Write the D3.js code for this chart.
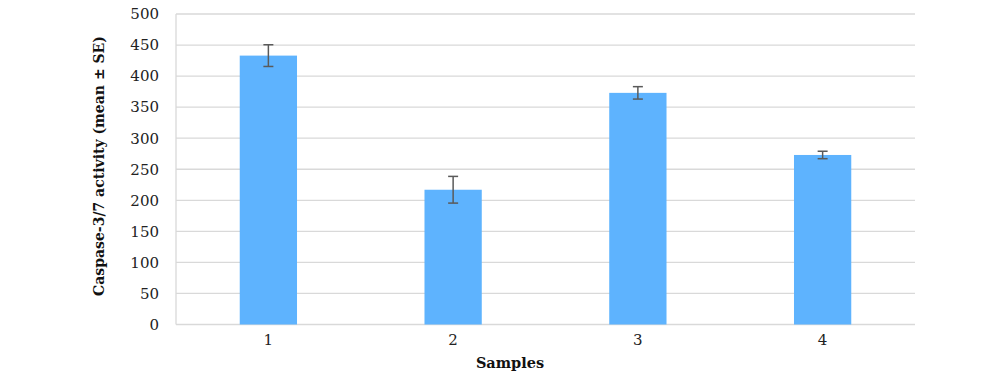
<!DOCTYPE html>
<html><head><meta charset="utf-8">
<script src="https://cdn.jsdelivr.net/npm/d3@7"></script>
<style>body{margin:0;background:#fff}text{font-family:"DejaVu Serif",serif}</style>
</head><body>
<svg id="c" width="1000" height="376"></svg>
<script>
const categories = ["1","2","3","4"];
const means = [433, 217, 373, 273];
const errors = [17.5, 21.5, 10, 6];
const yTicks = [0,50,100,150,200,250,300,350,400,450,500];

const svg = d3.select("#c");
const m = {left:176, right:915, top:14, bottom:324.5};
const x = d3.scaleBand().domain(categories).range([m.left, m.right]).paddingInner(0.69).paddingOuter(0.345);
const y = d3.scaleLinear().domain([0,500]).range([m.bottom, m.top]);

// gridlines
svg.append("g").selectAll("line").data(yTicks).join("line")
  .attr("x1", m.left).attr("x2", m.right)
  .attr("y1", d=>y(d)).attr("y2", d=>y(d))
  .attr("stroke", "#d9d9d9").attr("stroke-width", 1.3);
svg.append("line").attr("x1", m.left).attr("x2", m.left).attr("y1", m.top).attr("y2", m.bottom)
  .attr("stroke", "#d9d9d9").attr("stroke-width", 1.3);

// y axis
const ya = svg.append("g").attr("transform", `translate(${m.left},0)`)
  .call(d3.axisLeft(y).tickValues(yTicks).tickSize(0).tickPadding(17));
ya.select(".domain").remove();
ya.selectAll("text").attr("font-size", 15).attr("fill", "#222").style("font-family", "DejaVu Serif");

// x axis
const xa = svg.append("g").attr("transform", `translate(0,${m.bottom})`)
  .call(d3.axisBottom(x).tickSize(0).tickPadding(10));
xa.select(".domain").remove();
xa.selectAll("text").attr("font-size", 15).attr("fill", "#222").style("font-family", "DejaVu Serif");

// bars
svg.append("g").selectAll("rect").data(categories).join("rect")
  .attr("x", d=>x(d)).attr("width", x.bandwidth())
  .attr("y", (d,i)=>y(means[i])).attr("height", (d,i)=>y(0)-y(means[i]))
  .attr("fill", "#5eb3fe");

// error bars
const eg = svg.append("g").attr("stroke", "#5a5a5a").attr("stroke-width", 1.5);
categories.forEach((c,i)=>{
  const cx = x(c)+x.bandwidth()/2;
  const t = y(means[i]+errors[i]), b = y(means[i]-errors[i]);
  eg.append("line").attr("x1",cx).attr("x2",cx).attr("y1",t).attr("y2",b);
  eg.append("line").attr("x1",cx-5).attr("x2",cx+5).attr("y1",t).attr("y2",t);
  eg.append("line").attr("x1",cx-5).attr("x2",cx+5).attr("y1",b).attr("y2",b);
});

// axis titles
svg.append("text").attr("x", 510).attr("y", 368).attr("text-anchor","middle")
  .attr("font-size", 14.5).attr("font-weight","bold").attr("fill","#111").text("Samples");
svg.append("text").attr("transform","translate(104,166) rotate(-90)").attr("text-anchor","middle")
  .attr("font-size", 14).attr("font-weight","bold").attr("fill","#111").text("Caspase-3/7 activity (mean ± SE)");
</script>
</body></html>
